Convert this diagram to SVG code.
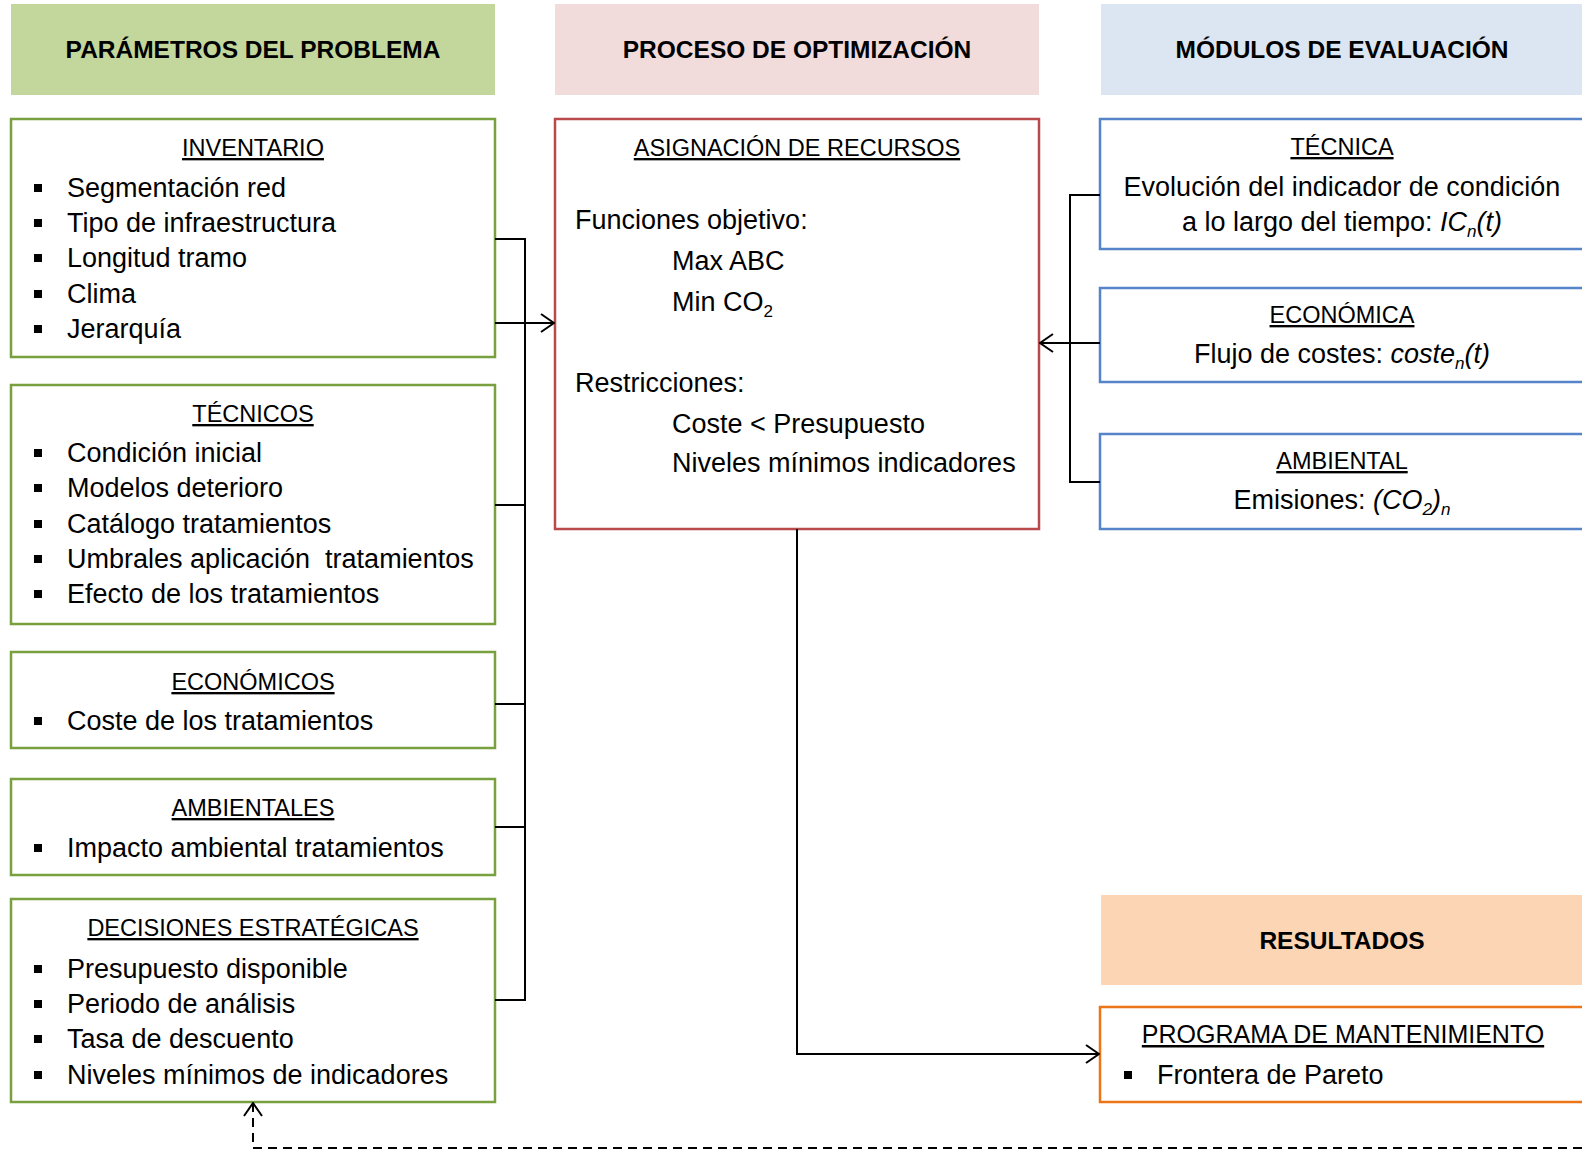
<svg xmlns="http://www.w3.org/2000/svg" width="1582" height="1151" viewBox="0 0 1582 1151">
<style>
  text { font-family: "Liberation Sans", Arial, sans-serif; fill: #000; }
  .hd { font-size: 24.5px; font-weight: bold; text-anchor: middle; }
  .ti { font-size: 23.5px; text-anchor: middle; text-decoration: underline; }
  .it { font-size: 27px; }
  .ct { font-size: 27px; text-anchor: middle; }
  .sub { font-size: 17px; }
  .em { font-style: italic; }
  .bx { fill: #fff; stroke-width: 2.5; }
  .g { stroke: #78A03E; }
  .r { stroke: #B9494A; }
  .b { stroke: #5585C8; }
  .o { stroke: #EC7518; }
  .bl { fill: #000; }
  .cn { fill: none; stroke: #000; stroke-width: 2; }
</style>
<defs>
  <marker id="arr" viewBox="0 0 16 20" refX="15" refY="10" markerWidth="16" markerHeight="20" markerUnits="userSpaceOnUse" orient="auto">
    <path d="M2,1 L15,10 L2,19" fill="none" stroke="#000" stroke-width="2"/>
  </marker>
</defs>
<rect width="1582" height="1151" fill="#fff"/>

<g id="hdr-parametros">
  <rect x="11" y="4" width="484" height="91" fill="#C3D69B"/>
  <text class="hd" x="253" y="58">PARÁMETROS DEL PROBLEMA</text>
</g>
<g id="hdr-proceso">
  <rect x="555" y="4" width="484" height="91" fill="#F2DCDB"/>
  <text class="hd" x="797" y="58">PROCESO DE OPTIMIZACIÓN</text>
</g>
<g id="hdr-modulos">
  <rect x="1101" y="4" width="484" height="91" fill="#DCE6F2"/>
  <text class="hd" x="1342" y="58">MÓDULOS DE EVALUACIÓN</text>
</g>
<g id="hdr-resultados">
  <rect x="1101" y="895" width="484" height="90" fill="#FCD5B5"/>
  <text class="hd" x="1342" y="949">RESULTADOS</text>
</g>

<g id="inventario">
  <rect class="bx g" x="11" y="119" width="484" height="238"/>
  <text class="ti" x="253" y="156">INVENTARIO</text>
  <rect class="bl" x="34" y="184" width="8" height="8"/><text class="it" x="67" y="197">Segmentación red</text>
  <rect class="bl" x="34" y="219" width="8" height="8"/><text class="it" x="67" y="232">Tipo de infraestructura</text>
  <rect class="bl" x="34" y="254" width="8" height="8"/><text class="it" x="67" y="267">Longitud tramo</text>
  <rect class="bl" x="34" y="290" width="8" height="8"/><text class="it" x="67" y="303">Clima</text>
  <rect class="bl" x="34" y="325" width="8" height="8"/><text class="it" x="67" y="338">Jerarquía</text>
</g>

<g id="tecnicos">
  <rect class="bx g" x="11" y="385" width="484" height="239"/>
  <text class="ti" x="253" y="422">TÉCNICOS</text>
  <rect class="bl" x="34" y="449" width="8" height="8"/><text class="it" x="67" y="462">Condición inicial</text>
  <rect class="bl" x="34" y="484" width="8" height="8"/><text class="it" x="67" y="497">Modelos deterioro</text>
  <rect class="bl" x="34" y="520" width="8" height="8"/><text class="it" x="67" y="533">Catálogo tratamientos</text>
  <rect class="bl" x="34" y="555" width="8" height="8"/><text class="it" x="67" y="568" xml:space="preserve">Umbrales aplicación  tratamientos</text>
  <rect class="bl" x="34" y="590" width="8" height="8"/><text class="it" x="67" y="603">Efecto de los tratamientos</text>
</g>

<g id="economicos">
  <rect class="bx g" x="11" y="652" width="484" height="96"/>
  <text class="ti" x="253" y="690">ECONÓMICOS</text>
  <rect class="bl" x="34" y="717" width="8" height="8"/><text class="it" x="67" y="730">Coste de los tratamientos</text>
</g>

<g id="ambientales">
  <rect class="bx g" x="11" y="779" width="484" height="96"/>
  <text class="ti" x="253" y="816">AMBIENTALES</text>
  <rect class="bl" x="34" y="844" width="8" height="8"/><text class="it" x="67" y="857">Impacto ambiental tratamientos</text>
</g>

<g id="decisiones">
  <rect class="bx g" x="11" y="899" width="484" height="203"/>
  <text class="ti" x="253" y="936">DECISIONES ESTRATÉGICAS</text>
  <rect class="bl" x="34" y="965" width="8" height="8"/><text class="it" x="67" y="978">Presupuesto disponible</text>
  <rect class="bl" x="34" y="1000" width="8" height="8"/><text class="it" x="67" y="1013">Periodo de análisis</text>
  <rect class="bl" x="34" y="1035" width="8" height="8"/><text class="it" x="67" y="1048">Tasa de descuento</text>
  <rect class="bl" x="34" y="1071" width="8" height="8"/><text class="it" x="67" y="1084">Niveles mínimos de indicadores</text>
</g>

<g id="asignacion">
  <rect class="bx r" x="555" y="119" width="484" height="410"/>
  <text class="ti" x="797" y="156">ASIGNACIÓN DE RECURSOS</text>
  <text class="it" x="575" y="229">Funciones objetivo:</text>
  <text class="it" x="672" y="270">Max ABC</text>
  <text class="it" x="672" y="311">Min CO<tspan class="sub" dy="6">2</tspan></text>
  <text class="it" x="575" y="392">Restricciones:</text>
  <text class="it" x="672" y="433">Coste &lt; Presupuesto</text>
  <text class="it" x="672" y="472">Niveles mínimos indicadores</text>
</g>

<g id="tecnica">
  <rect class="bx b" x="1100" y="119" width="490" height="130"/>
  <text class="ti" x="1342" y="155">TÉCNICA</text>
  <text class="ct" x="1342" y="196">Evolución del indicador de condición</text>
  <text class="ct" x="1342" y="231">a lo largo del tiempo: <tspan class="em">IC</tspan><tspan class="em sub" dy="6">n</tspan><tspan class="em" dy="-6">(t)</tspan></text>
</g>

<g id="economica">
  <rect class="bx b" x="1100" y="288" width="490" height="94"/>
  <text class="ti" x="1342" y="323">ECONÓMICA</text>
  <text class="ct" x="1342" y="363">Flujo de costes: <tspan class="em">coste</tspan><tspan class="em sub" dy="6">n</tspan><tspan class="em" dy="-6">(t)</tspan></text>
</g>

<g id="ambiental">
  <rect class="bx b" x="1100" y="434" width="490" height="95"/>
  <text class="ti" x="1342" y="469">AMBIENTAL</text>
  <text class="ct" x="1342" y="509">Emisiones: <tspan class="em">(CO</tspan><tspan class="em sub" dy="6">2</tspan><tspan class="em" dy="-6">)</tspan><tspan class="em sub" dy="6">n</tspan></text>
</g>

<g id="programa">
  <rect class="bx o" x="1100" y="1007" width="490" height="95"/>
  <text class="ti" x="1343" y="1043" style="font-size:25px">PROGRAMA DE MANTENIMIENTO</text>
  <rect class="bl" x="1124" y="1071" width="8" height="8"/><text class="it" x="1157" y="1084">Frontera de Pareto</text>
</g>

<g id="connectors">
  <path class="cn" d="M495,239 H525 V1000 H495"/>
  <path class="cn" d="M495,505 H525 M495,704 H525 M495,827 H525"/>
  <path class="cn" d="M495,323 H554" marker-end="url(#arr)"/>
  <path class="cn" d="M1100,195 H1070 V482 H1100"/>
  <path class="cn" d="M1100,343 H1040" marker-end="url(#arr)"/>
  <path class="cn" d="M797,529 V1054 H1099" marker-end="url(#arr)"/>
  <path class="cn" d="M1582,1148 H253 V1103" stroke-dasharray="9 6" marker-end="url(#arr)"/>
</g>
</svg>
